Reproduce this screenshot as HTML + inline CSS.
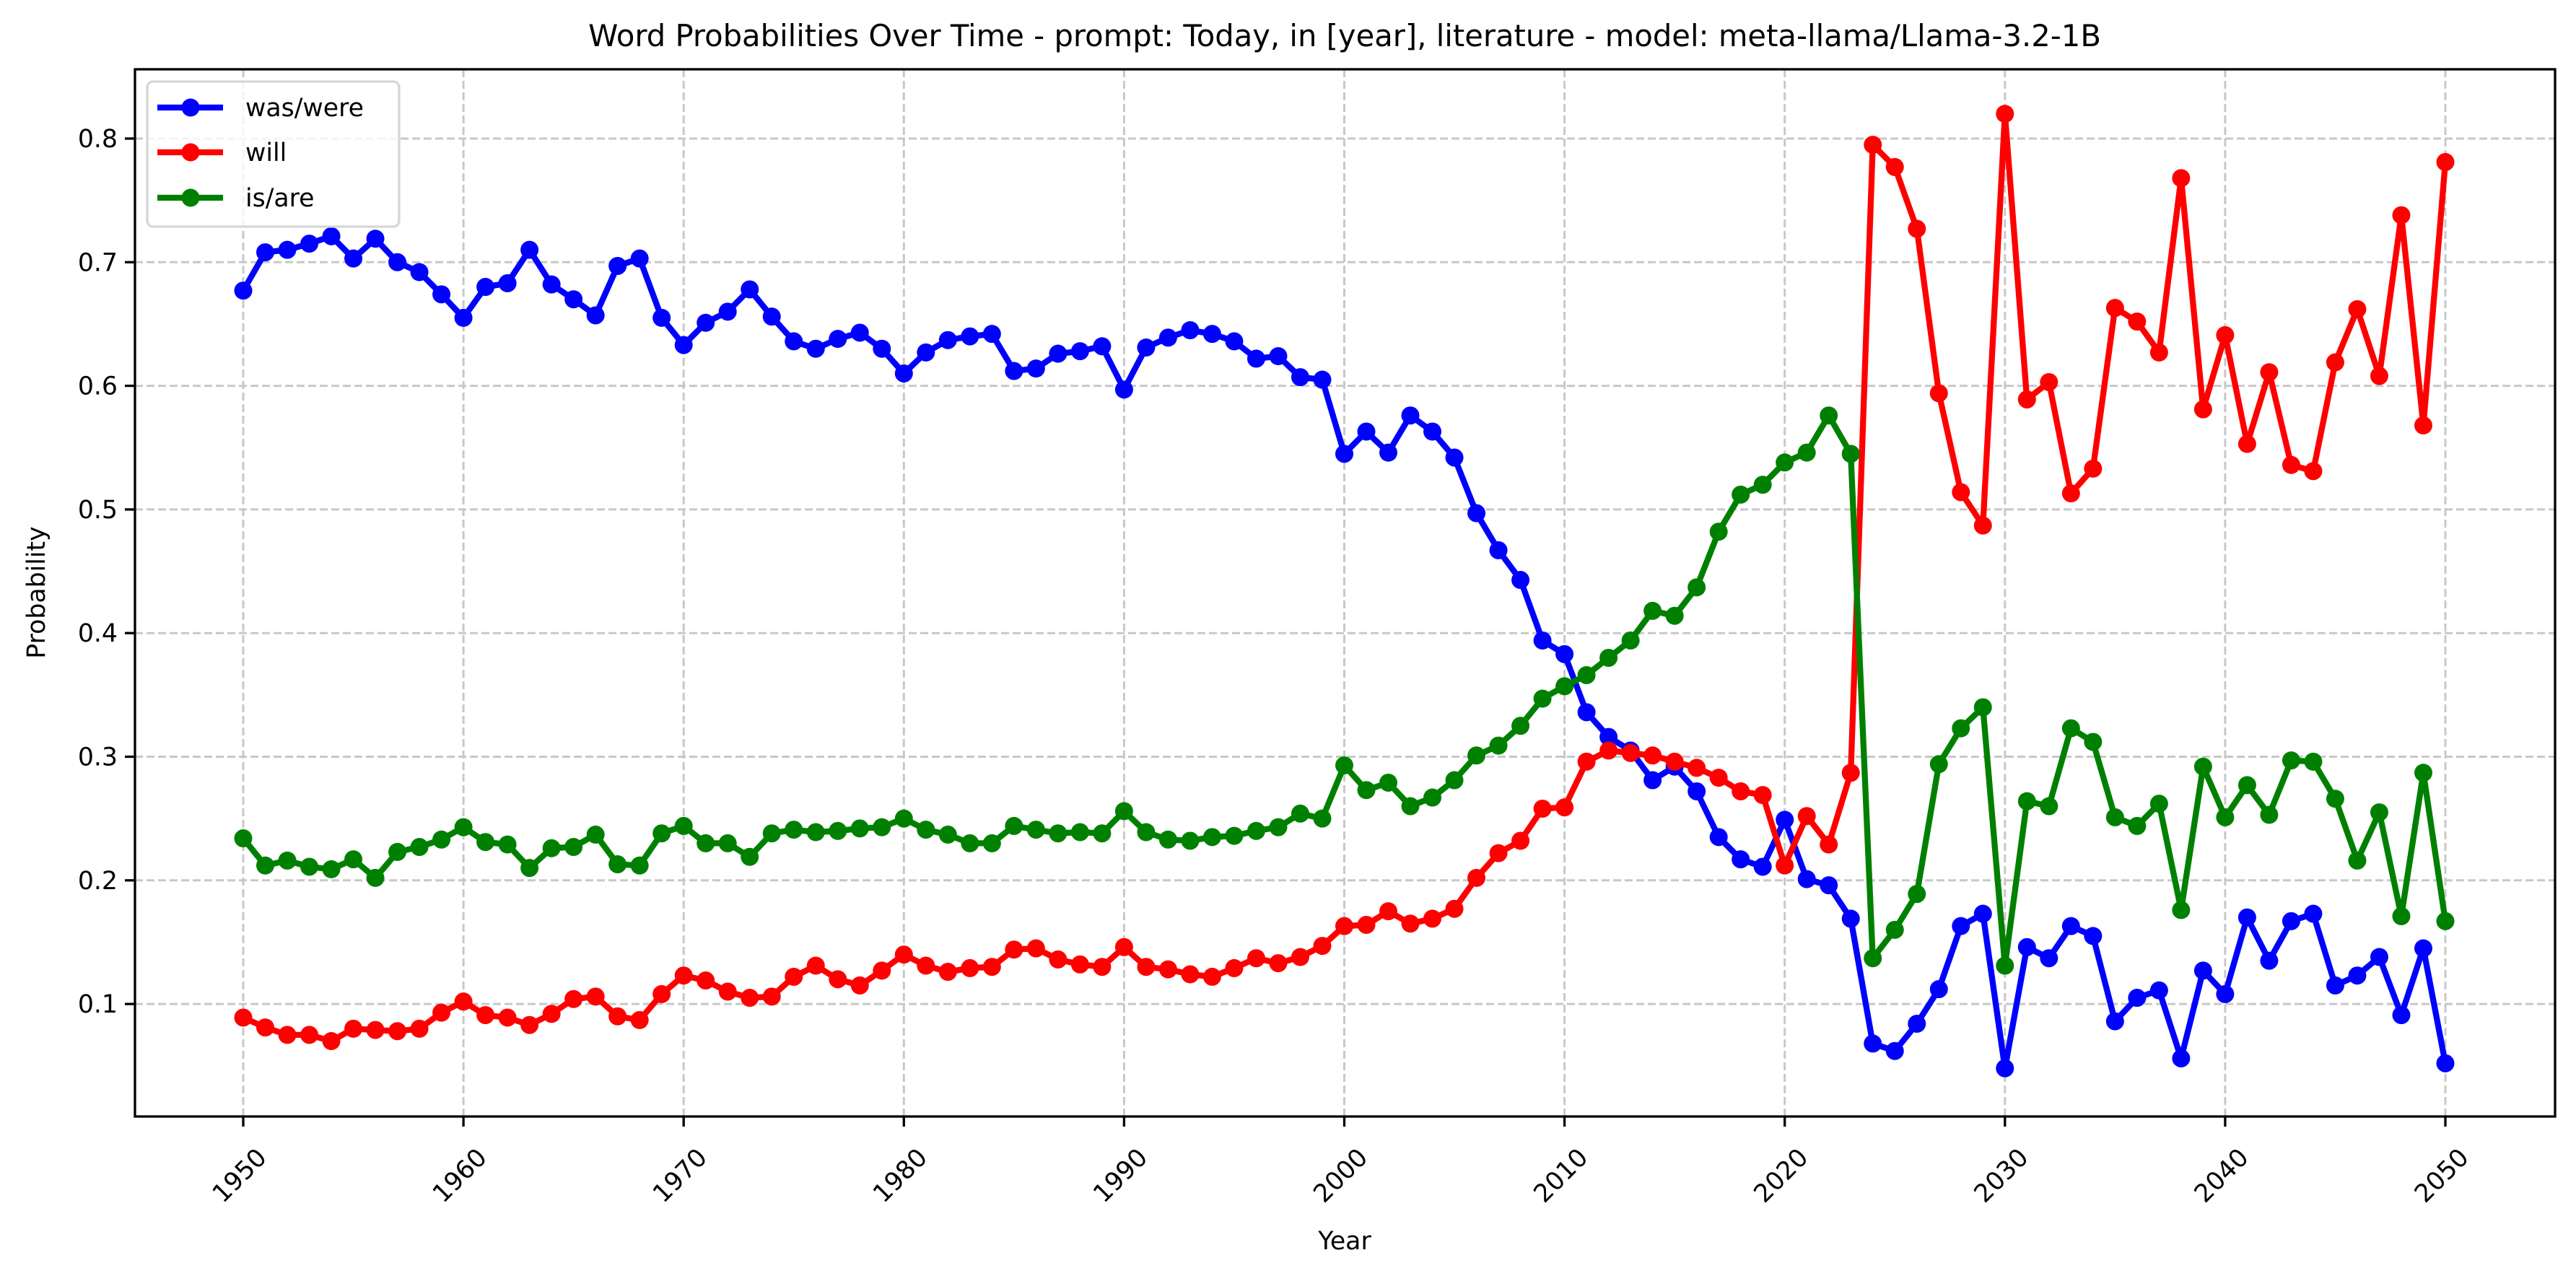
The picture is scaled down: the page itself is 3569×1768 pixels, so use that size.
<!DOCTYPE html>
<html><head><meta charset="utf-8"><style>
html,body{margin:0;padding:0;background:#fff;}
svg{display:block;font-family:"DejaVu Sans","Liberation Sans",sans-serif;}
</style></head><body>
<svg id="chart" width="3569" height="1768" viewBox="0 0 3569 1768" xmlns="http://www.w3.org/2000/svg">
<rect width="3569" height="1768" fill="#fff"/>
<text x="1863" y="64" font-size="41.7" text-anchor="middle">Word Probabilities Over Time - prompt: Today, in [year], literature - model: meta-llama/Llama-3.2-1B</text>
<g id="grid"></g>
<g id="series"></g>
<g id="axes"></g>
<text x="1863" y="1731" font-size="34.7" text-anchor="middle">Year</text>
<text transform="translate(62,821) rotate(-90)" font-size="34.7" text-anchor="middle">Probability</text>
<g id="legend"></g>
</svg>
<script>
const years = [];
for (let y = 1950; y <= 2050; y++) years.push(y);
const wasWere = [0.677,0.708,0.710,0.715,0.721,0.703,0.719,0.700,0.692,0.674,
0.655,0.680,0.683,0.710,0.682,0.670,0.657,0.697,0.703,0.655,
0.633,0.651,0.660,0.678,0.656,0.636,0.630,0.638,0.643,0.630,
0.610,0.627,0.637,0.640,0.642,0.612,0.614,0.626,0.628,0.632,
0.597,0.631,0.639,0.645,0.642,0.636,0.622,0.624,0.607,0.605,
0.545,0.563,0.546,0.576,0.563,0.542,0.497,0.467,0.443,0.394,
0.383,0.336,0.316,0.305,0.281,0.292,0.272,0.235,0.217,0.211,
0.249,0.201,0.196,0.169,0.068,0.062,0.084,0.112,0.163,0.173,
0.048,0.146,0.137,0.163,0.155,0.086,0.105,0.111,0.056,0.127,
0.108,0.170,0.135,0.167,0.173,0.115,0.123,0.138,0.091,0.145,0.052];
const will = [0.089,0.081,0.075,0.075,0.070,0.080,0.079,0.078,0.080,0.093,
0.102,0.091,0.089,0.083,0.092,0.104,0.106,0.090,0.087,0.108,
0.123,0.119,0.110,0.105,0.106,0.122,0.131,0.120,0.115,0.127,
0.140,0.131,0.126,0.129,0.130,0.144,0.145,0.136,0.132,0.130,
0.146,0.130,0.128,0.124,0.122,0.129,0.137,0.133,0.138,0.147,
0.163,0.164,0.175,0.165,0.169,0.177,0.202,0.222,0.232,0.258,
0.259,0.296,0.305,0.303,0.301,0.296,0.291,0.283,0.272,0.269,
0.212,0.252,0.229,0.287,0.795,0.777,0.727,0.594,0.514,0.487,
0.820,0.589,0.603,0.513,0.533,0.663,0.652,0.627,0.768,0.581,
0.641,0.553,0.611,0.536,0.531,0.619,0.662,0.608,0.738,0.568,0.781];
const isAre = [0.234,0.212,0.216,0.211,0.209,0.217,0.202,0.223,0.227,0.233,
0.243,0.231,0.229,0.210,0.226,0.227,0.237,0.213,0.212,0.238,
0.244,0.230,0.230,0.219,0.238,0.241,0.239,0.240,0.242,0.243,
0.250,0.241,0.237,0.230,0.230,0.244,0.241,0.238,0.239,0.238,
0.256,0.239,0.233,0.232,0.235,0.236,0.240,0.243,0.254,0.250,
0.293,0.273,0.279,0.260,0.267,0.281,0.301,0.309,0.325,0.347,
0.357,0.366,0.380,0.394,0.418,0.414,0.437,0.482,0.512,0.520,
0.538,0.546,0.576,0.545,0.137,0.160,0.189,0.294,0.323,0.340,
0.131,0.264,0.260,0.323,0.312,0.251,0.244,0.262,0.176,0.292,
0.251,0.277,0.253,0.297,0.296,0.266,0.216,0.255,0.171,0.287,0.167];
const xTicks = [1950,1960,1970,1980,1990,2000,2010,2020,2030,2040,2050];
const yTicks = [0.1,0.2,0.3,0.4,0.5,0.6,0.7,0.8];
const seriesNames = ["was/were","will","is/are"];
const seriesColors = ["#0000ff","#ff0000","#008000"];

const L=187,R=3540,T=96,B=1547;
function xs(y){return 337+(y-1950)*30.51;}
function ys(v){return 192+(0.8-v)*1713;}
const NS="http://www.w3.org/2000/svg";
function mk(tag,attrs,parent){const e=document.createElementNS(NS,tag);for(const k in attrs)e.setAttribute(k,attrs[k]);parent.appendChild(e);return e;}
const grid=document.getElementById('grid'),axes=document.getElementById('axes'),ser=document.getElementById('series'),leg=document.getElementById('legend');

xTicks.forEach(t=>{
  const x=xs(t);
  const g=mk('line',{x1:x,x2:x,y1:T,y2:B,stroke:'#c8c8c8','stroke-width':3,'stroke-dasharray':'11,5'},grid);
  
  
  const tk=mk('line',{x1:x,x2:x,y1:B,y2:B+14,stroke:'#000','stroke-width':3.3},axes);
  
  
  const tx=mk('text',{transform:`translate(${x-4},${1630}) rotate(-45)`,'font-size':34.7,'text-anchor':'middle','dominant-baseline':'middle'},axes);
  tx.textContent=t;
  
  
});
yTicks.forEach(t=>{
  const y=ys(t);
  const g=mk('line',{x1:L,x2:R,y1:y,y2:y,stroke:'#c8c8c8','stroke-width':3,'stroke-dasharray':'11,5'},grid);
  
  
  const tk=mk('line',{x1:L-14,x2:L,y1:y,y2:y,stroke:'#000','stroke-width':3.3},axes);
  
  
  const tx=mk('text',{x:L-24,y:y+12,'font-size':34.7,'text-anchor':'end'},axes);
  tx.textContent=t.toFixed(1);
  
  
});
const frame=mk('rect',{x:L,y:T,width:R-L,height:B-T,fill:'none',stroke:'#000','stroke-width':3.3},axes);



[wasWere,will,isAre].forEach((data,si)=>{
  const g=mk('g',{},ser);
  
  
  const pts=data.map((v,i)=>xs(years[i]).toFixed(1)+','+ys(v).toFixed(1)).join(' ');
  const pl=mk('polyline',{points:pts,fill:'none',stroke:seriesColors[si],'stroke-width':8.3,'stroke-linejoin':'round'},g);
  
  
  data.forEach((v,i)=>{
    const c=mk('circle',{cx:xs(years[i]),cy:ys(v),r:12.5,fill:seriesColors[si]},g);
    
    
  });
});

const box=mk('rect',{x:204,y:113,width:349,height:201,rx:8,fill:'#fff','fill-opacity':0.8,stroke:'#d6d6d6','stroke-width':3.3},leg);


[149,211,274].forEach((cy,i)=>{
  const g=mk('g',{},leg);
  
  
  mk('line',{x1:218,x2:309,y1:cy,y2:cy,stroke:seriesColors[i],'stroke-width':8.3},g);
  mk('circle',{cx:264,cy:cy,r:12.5,fill:seriesColors[i]},g);
  const t=mk('text',{x:340,y:cy+12,'font-size':34.7},g);
  t.textContent=seriesNames[i];
});
</script>
</body></html>
